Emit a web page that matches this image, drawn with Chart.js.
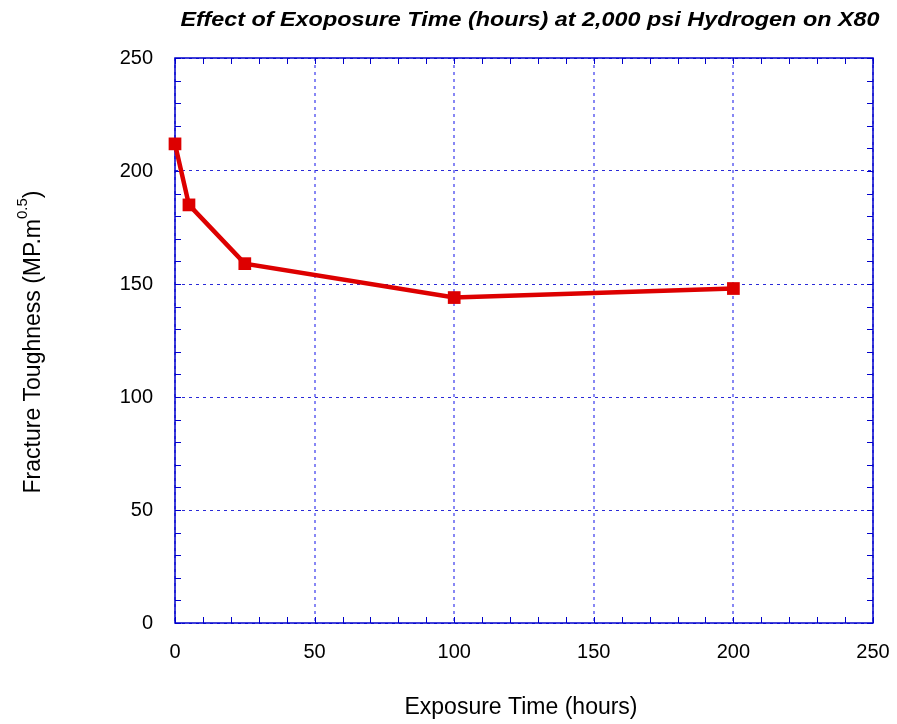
<!DOCTYPE html>
<html>
<head>
<meta charset="utf-8">
<script src="https://cdn.jsdelivr.net/npm/chart.js@4"></script>
<style>
html,body{margin:0;padding:0;background:#fff;}
#wrap{width:897px;height:724px;position:relative;}
</style>
</head>
<body>
<div id="wrap"><canvas id="c" width="897" height="724"></canvas></div>
<script>
const exposureHours = [0, 5, 25, 100, 200];
const fractureToughness = [212, 185, 159, 144, 148];
const xTickValues = [0, 50, 100, 150, 200, 250];
const yTickValues = [0, 50, 100, 150, 200, 250];
const chartTitle = "Effect of Exoposure Time (hours) at 2,000 psi Hydrogen on X80";
const xAxisTitle = "Exposure Time (hours)";
const yAxisTitleMain = "Fracture Toughness (MP.m";
const yAxisTitleSup = "0.5";
const yAxisTitleEnd = ")";

const FRAME = '#0000cc';
const FONT = '"Liberation Sans", Arial, sans-serif';

const decorPlugin = {
  id: 'decor',
  beforeDatasetsDraw(chart) {
    const ctx = chart.ctx, a = chart.chartArea;
    const xs = chart.scales.x, ys = chart.scales.y;
    ctx.save();
    ctx.strokeStyle = FRAME;
    ctx.lineWidth = 1;
    ctx.beginPath();
    for (let v = 0; v <= 250; v += 10) {
      const px = Math.round(xs.getPixelForValue(v)) + 0.5;
      ctx.moveTo(px, a.bottom); ctx.lineTo(px, a.bottom - 6);
      ctx.moveTo(px, a.top); ctx.lineTo(px, a.top + 6);
      const py = Math.round(ys.getPixelForValue(v)) + 0.5;
      ctx.moveTo(a.left, py); ctx.lineTo(a.left + 6, py);
      ctx.moveTo(a.right, py); ctx.lineTo(a.right - 6, py);
    }
    ctx.stroke();
    ctx.lineWidth = 1.5;
    ctx.strokeRect(a.left, a.top, a.right - a.left, a.bottom - a.top);
    ctx.restore();
  },
  afterDraw(chart) {
    const ctx = chart.ctx;
    ctx.save();
    ctx.fillStyle = '#000';
    ctx.font = 'italic bold 21px ' + FONT;
    ctx.textBaseline = 'middle';
    ctx.textAlign = 'center';
    const w = ctx.measureText(chartTitle).width;
    const target = 699;
    ctx.translate(530, 20);
    ctx.scale(target / w, 1);
    ctx.fillText(chartTitle, 0, 0);
    ctx.restore();

    // x axis title
    ctx.save();
    ctx.fillStyle = '#000';
    ctx.font = '23px ' + FONT;
    ctx.textAlign = 'center';
    ctx.textBaseline = 'middle';
    ctx.fillText(xAxisTitle, 521, 708);
    ctx.restore();

    ctx.save();
    ctx.fillStyle = '#000';
    const mainFont = '23px ' + FONT;
    const supFont = '15px ' + FONT;
    ctx.font = mainFont;
    const w1 = ctx.measureText(yAxisTitleMain).width;
    const w3 = ctx.measureText(yAxisTitleEnd).width;
    ctx.font = supFont;
    const w2 = ctx.measureText(yAxisTitleSup).width;
    const total = w1 + w2 + w3;
    ctx.translate(33, 342);
    ctx.rotate(-Math.PI / 2);
    ctx.textBaseline = 'middle';
    ctx.textAlign = 'left';
    const x0 = -total / 2;
    ctx.font = mainFont;
    ctx.fillText(yAxisTitleMain, x0, 1);
    ctx.font = supFont;
    ctx.fillText(yAxisTitleSup, x0 + w1, -10);
    ctx.font = mainFont;
    ctx.fillText(yAxisTitleEnd, x0 + w1 + w2, 1);
    ctx.restore();
  }
};

const chart = new Chart(document.getElementById('c'), {
  type: 'line',
  data: {
    datasets: [{
      data: exposureHours.map((x, i) => ({ x: x, y: fractureToughness[i] })),
      borderColor: '#dd0000',
      backgroundColor: '#dd0000',
      borderWidth: 4.5,
      pointStyle: 'rect',
      pointRadius: 9,
      pointHoverRadius: 9,
      pointBorderWidth: 0,
      tension: 0,
      clip: false
    }]
  },
  options: {
    responsive: false,
    animation: false,
    devicePixelRatio: 1,
    layout: { padding: { top: 58, right: 24, bottom: 0, left: 0 } },
    plugins: { legend: { display: false }, tooltip: { enabled: false }, title: { display: false } },
    scales: {
      x: {
        type: 'linear', min: 0, max: 250,
        afterBuildTicks: (s) => { s.ticks = xTickValues.map(v => ({ value: v })); },
        afterFit: (s) => { s.height = 101; s.paddingLeft = 0; s.paddingRight = 0; },
        ticks: { color: '#000', font: { size: 20, family: FONT }, padding: 17, maxRotation: 0 },
        grid: { color: 'rgba(95,95,240,0.75)', lineWidth: 2, drawTicks: false },
        border: { display: false, dash: [3, 4] },
        title: { display: false }
      },
      y: {
        type: 'linear', min: 0, max: 250,
        afterBuildTicks: (s) => { s.ticks = yTickValues.map(v => ({ value: v })); },
        afterFit: (s) => { s.width = 175; s.paddingTop = 0; s.paddingBottom = 0; },
        ticks: { color: '#000', font: { size: 20, family: FONT }, padding: 22 },
        grid: { color: '#2a2ad8', lineWidth: 1, drawTicks: false },
        border: { display: false, dash: [3, 4] }
      }
    }
  },
  plugins: [decorPlugin]
});
</script>
</body>
</html>
